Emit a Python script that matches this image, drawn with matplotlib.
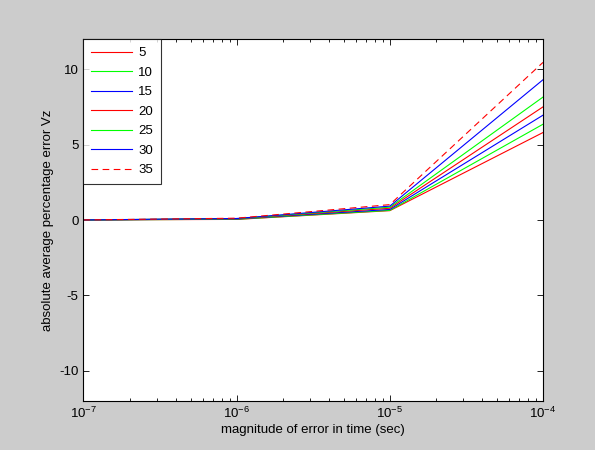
import numpy as np
import matplotlib.pyplot as plt
import matplotlib.ticker as mtick

plt.rc('font', family=['Liberation Sans', 'DejaVu Sans'], size=8)
plt.rc('axes', unicode_minus=False)

# error magnitudes (sec) and absolute average percentage error Vz per case
err_time = [1e-7, 1e-6, 1e-5, 1e-4]
labels = ['5', '10', '15', '20', '25', '30', '35']
vz_5 = [0.005, 0.04, 0.62, 5.8]
vz_10 = [0.005, 0.05, 0.64, 6.35]
vz_15 = [0.005, 0.07, 0.70, 6.95]
vz_20 = [0.005, 0.08, 0.78, 7.5]
vz_25 = [0.005, 0.09, 0.85, 8.15]
vz_30 = [0.005, 0.10, 0.92, 9.3]
vz_35 = [0.005, 0.12, 1.02, 10.45]
series = [vz_5, vz_10, vz_15, vz_20, vz_25, vz_30, vz_35]

colors = ['#ff0000', '#00ff00', '#0000ff', '#ff0000', '#00ff00', '#0000ff', '#ff0000']
styles = ['-', '-', '-', '-', '-', '-', '--']

fig = plt.figure(figsize=(5.95, 4.5), dpi=100, facecolor='#cccccc')
ax = fig.add_axes([0.1403, 0.1089, 0.7723, 0.8044])
ax.set_facecolor('white')

for vals, lab, c, ls in zip(series, labels, colors, styles):
    ax.plot(err_time, vals, color=c, linestyle=ls, linewidth=0.8, label=lab,
            dashes=(6, 4) if ls == '--' else (None, None))

ax.set_xscale('log')
ax.set_xlim(1e-7, 1e-4)
ax.set_ylim(-12, 12)
ax.set_yticks([-10, -5, 0, 5, 10])
ax.xaxis.set_major_locator(mtick.LogLocator(base=10, numticks=10))
ax.xaxis.set_minor_locator(mtick.LogLocator(base=10, subs=np.arange(2, 10), numticks=10))
ax.xaxis.set_minor_formatter(mtick.NullFormatter())
ax.tick_params(which='both', direction='in', top=True, right=True, labelsize=9.5, width=0.6)
ax.tick_params(which='major', length=4)
ax.tick_params(which='minor', length=2.5)
for s in ax.spines.values():
    s.set_linewidth(0.8)

ax.set_xlabel('magnitude of error in time (sec)', fontsize=9.5, labelpad=2)
ax.set_ylabel('absolute average percentage error Vz', fontsize=9.5, labelpad=4)

leg = ax.legend(loc='upper left', fontsize=9.5, frameon=True, fancybox=False,
                borderaxespad=0, handlelength=3.1, labelspacing=0.55,
                borderpad=0.6, handletextpad=0.45)
leg.get_frame().set_edgecolor('black')
leg.get_frame().set_linewidth(0.8)

fig.savefig('out.png', dpi=100, facecolor=fig.get_facecolor())
